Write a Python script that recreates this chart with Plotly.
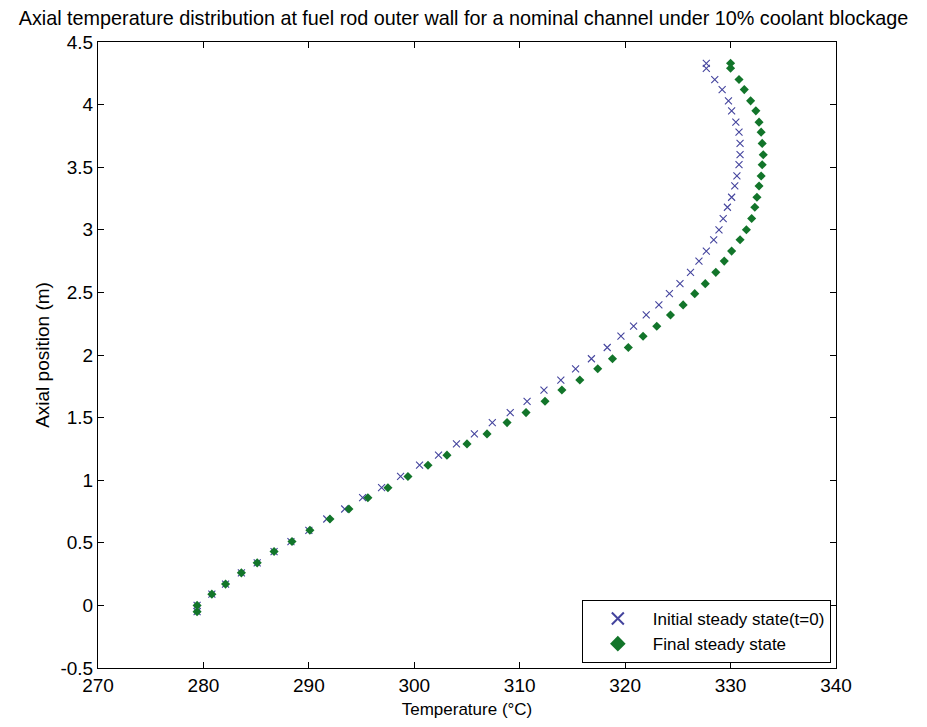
import plotly.graph_objects as go

# Axial positions (m)
axial_pos = [-0.05, 0.00, 0.09, 0.17, 0.26, 0.34, 0.43, 0.51, 0.60, 0.69, 0.77,
             0.86, 0.94, 1.03, 1.12, 1.20, 1.29, 1.37, 1.46, 1.54, 1.63,
             1.72, 1.80, 1.89, 1.97, 2.06, 2.15, 2.23, 2.32, 2.40, 2.49,
             2.57, 2.66, 2.75, 2.83, 2.92, 3.00, 3.09, 3.18, 3.26, 3.35,
             3.43, 3.52, 3.60, 3.69, 3.78, 3.86, 3.95, 4.03, 4.12, 4.20,
             4.29, 4.33]

# Initial steady state (t=0) wall temperature (°C)
temp_initial = [279.4, 279.4, 280.8, 282.1, 283.6, 285.1, 286.7, 288.3, 290.0, 291.7, 293.4,
                295.1, 296.9, 298.7, 300.5, 302.3, 304.0, 305.7, 307.4, 309.1, 310.7,
                312.3, 313.9, 315.3, 316.8, 318.3, 319.6, 320.8, 322.0, 323.2, 324.2,
                325.2, 326.2, 327.0, 327.7, 328.4, 328.9, 329.3, 329.7, 330.1, 330.4,
                330.6, 330.8, 330.9, 330.9, 330.8, 330.5, 330.1, 329.8, 329.2, 328.5,
                327.7, 327.7]

# Final steady state wall temperature (°C)
temp_final = [279.4, 279.4, 280.8, 282.1, 283.6, 285.1, 286.7, 288.4, 290.1, 292.0, 293.8,
              295.6, 297.5, 299.4, 301.3, 303.1, 305.0, 306.9, 308.8, 310.6, 312.4,
              314.0, 315.7, 317.4, 318.8, 320.3, 321.7, 323.0, 324.3, 325.5, 326.6,
              327.6, 328.6, 329.4, 330.1, 330.9, 331.5, 332.0, 332.3, 332.5, 332.7,
              332.9, 333.0, 333.1, 333.0, 332.9, 332.7, 332.4, 331.9, 331.3, 330.8,
              330.0, 330.0]

x_ticks = [270, 280, 290, 300, 310, 320, 330, 340]
y_ticks = [-0.5, 0, 0.5, 1, 1.5, 2, 2.5, 3, 3.5, 4, 4.5]
y_ticktext = ["%g" % v for v in y_ticks]

FONT = "Liberation Sans, Arial, sans-serif"

fig = go.Figure()
fig.add_trace(go.Scatter(
    x=temp_initial, y=axial_pos, mode="markers",
    name="Initial steady state(t=0)",
    marker=dict(symbol="x-thin-open", size=7, color="#45459e",
                line=dict(width=1.1, color="#45459e")),
))
fig.add_trace(go.Scatter(
    x=temp_final, y=axial_pos, mode="markers",
    name="Final steady state",
    marker=dict(symbol="diamond", size=7, color="#12752a"),
))

axis_common = dict(
    showline=True, linecolor="black", linewidth=1, mirror="ticks",
    ticks="inside", ticklen=6, tickcolor="black", tickwidth=1,
    showgrid=False, zeroline=False,
    tickfont=dict(family=FONT, size=19, color="black"),
)

fig.update_layout(
    width=927, height=727,
    margin=dict(l=98, r=91, t=42, b=59),
    paper_bgcolor="white", plot_bgcolor="white",
    font=dict(family=FONT, size=19, color="black"),
    title=dict(text="Axial temperature distribution at fuel rod outer wall for a nominal channel under 10% coolant blockage",
               x=0.5, xanchor="center", y=0.985, yanchor="top",
               font=dict(family=FONT, size=19.8, color="black")),
    xaxis=dict(axis_common, range=[270, 340], tickvals=x_ticks,
               title=dict(text="Temperature (°C)", standoff=8,
                          font=dict(family=FONT, size=17))),
    yaxis=dict(axis_common, range=[-0.5, 4.5], tickvals=y_ticks,
               ticktext=y_ticktext,
               title=dict(text="Axial position (m)", standoff=5,
                          font=dict(family=FONT, size=19))),
    legend=dict(x=0.993, y=0.008, xanchor="right", yanchor="bottom",
                bgcolor="white", bordercolor="black", borderwidth=1,
                font=dict(family=FONT, size=17), tracegroupgap=0,
                itemwidth=60, itemsizing="constant"),
    showlegend=True,
)

fig.write_html("out.html")
